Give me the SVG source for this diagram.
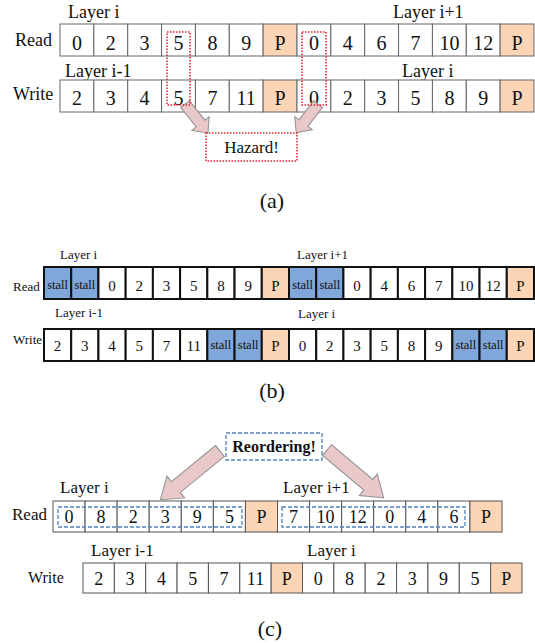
<svg xmlns="http://www.w3.org/2000/svg" width="535" height="643" viewBox="0 0 535 643">
<style>
text{font-family:"Liberation Serif","Times New Roman",serif;fill:#111}
.ca{fill:#fff;stroke:#666;stroke-width:1}
.pa{fill:#fbd5b5;stroke:#666;stroke-width:1}
.cb{fill:#fff;stroke:#111;stroke-width:2}
.pb{fill:#fbd5b5;stroke:#111;stroke-width:2}
.sb{fill:#7fa7d9;stroke:#111;stroke-width:2}
.cc{fill:#fff;stroke:#555;stroke-width:1}
.pc{fill:#fbd5b5;stroke:#555;stroke-width:1}
.da{font-size:20px;text-anchor:middle}
.db{font-size:15px;text-anchor:middle}
.st{font-size:12.5px;text-anchor:middle}
.dc{font-size:18px;text-anchor:middle}
.la{font-size:18px}
.lb{font-size:13px}
.lc{font-size:17px}
.cap{font-size:22px;text-anchor:middle}
.red{fill:none;stroke:#e8202a;stroke-width:1.5;stroke-dasharray:1.5 1.5}
.blue{fill:none;stroke:#4f81bd;stroke-width:1.3;stroke-dasharray:4 2}
.arr{fill:#e8c8c8;stroke:#8f8f8f;stroke-width:1}
</style>

<!-- (a) -->
<g id="a-labels">
<text class="la" x="68" y="18">Layer i</text>
<text class="la" x="393" y="18">Layer i+1</text>
<text class="la" x="15" y="46">Read</text>
<text class="la" x="65" y="77">Layer i-1</text>
<text class="la" x="402" y="77">Layer i</text>
<text class="la" x="13" y="100">Write</text>
</g>
<g id="a-read">
<rect class="ca" x="60" y="24" width="33.86" height="32"/><text class="da" x="76.9" y="50">0</text>
<rect class="ca" x="93.86" y="24" width="33.86" height="32"/><text class="da" x="110.8" y="50">2</text>
<rect class="ca" x="127.71" y="24" width="33.86" height="32"/><text class="da" x="144.6" y="50">3</text>
<rect class="ca" x="161.57" y="24" width="33.86" height="32"/><text class="da" x="178.5" y="50">5</text>
<rect class="ca" x="195.43" y="24" width="33.86" height="32"/><text class="da" x="212.4" y="50">8</text>
<rect class="ca" x="229.29" y="24" width="33.86" height="32"/><text class="da" x="246.2" y="50">9</text>
<rect class="pa" x="263.14" y="24" width="33.86" height="32"/><text class="da" x="280.1" y="50">P</text>
<rect class="ca" x="297" y="24" width="33.86" height="32"/><text class="da" x="313.9" y="50">0</text>
<rect class="ca" x="330.86" y="24" width="33.86" height="32"/><text class="da" x="347.8" y="50">4</text>
<rect class="ca" x="364.71" y="24" width="33.86" height="32"/><text class="da" x="381.6" y="50">6</text>
<rect class="ca" x="398.57" y="24" width="33.86" height="32"/><text class="da" x="415.5" y="50">7</text>
<rect class="ca" x="432.43" y="24" width="33.86" height="32"/><text class="da" x="449.4" y="50">10</text>
<rect class="ca" x="466.29" y="24" width="33.86" height="32"/><text class="da" x="483.2" y="50">12</text>
<rect class="pa" x="500.14" y="24" width="33.86" height="32"/><text class="da" x="517.1" y="50">P</text>
</g>
<g id="a-write">
<rect class="ca" x="60" y="80" width="33.86" height="32"/><text class="da" x="76.9" y="105">2</text>
<rect class="ca" x="93.86" y="80" width="33.86" height="32"/><text class="da" x="110.8" y="105">3</text>
<rect class="ca" x="127.71" y="80" width="33.86" height="32"/><text class="da" x="144.6" y="105">4</text>
<rect class="ca" x="161.57" y="80" width="33.86" height="32"/><text class="da" x="178.5" y="105">5</text>
<rect class="ca" x="195.43" y="80" width="33.86" height="32"/><text class="da" x="212.4" y="105">7</text>
<rect class="ca" x="229.29" y="80" width="33.86" height="32"/><text class="da" x="246.2" y="105">11</text>
<rect class="pa" x="263.14" y="80" width="33.86" height="32"/><text class="da" x="280.1" y="105">P</text>
<rect class="ca" x="297" y="80" width="33.86" height="32"/><text class="da" x="313.9" y="105">0</text>
<rect class="ca" x="330.86" y="80" width="33.86" height="32"/><text class="da" x="347.8" y="105">2</text>
<rect class="ca" x="364.71" y="80" width="33.86" height="32"/><text class="da" x="381.6" y="105">3</text>
<rect class="ca" x="398.57" y="80" width="33.86" height="32"/><text class="da" x="415.5" y="105">5</text>
<rect class="ca" x="432.43" y="80" width="33.86" height="32"/><text class="da" x="449.4" y="105">8</text>
<rect class="ca" x="466.29" y="80" width="33.86" height="32"/><text class="da" x="483.2" y="105">9</text>
<rect class="pa" x="500.14" y="80" width="33.86" height="32"/><text class="da" x="517.1" y="105">P</text>
</g>
<g id="a-connectors">
<path class="arr" transform="translate(185,104) rotate(51.6)" d="M0,-5.5 H25 V-11 L37,0 L25,11 V5.5 H0 Z"/>
<path class="arr" transform="translate(318,104) rotate(127.2)" d="M0,-5.5 H24 V-11 L36,0 L24,11 V5.5 H0 Z"/>
</g>
<g id="a-hazard-marks">
<rect class="red" x="167" y="32" width="23" height="73"/>
<rect class="red" x="302" y="32" width="24" height="73"/>
</g>
<g id="a-hazard">
<rect class="red" x="206" y="133" width="91" height="28"/>
<text x="251.5" y="153" style="font-size:17px;text-anchor:middle">Hazard!</text>
</g>
<text class="cap" x="272" y="208">(a)</text>

<!-- (b) -->
<g id="b-labels">
<text class="lb" x="60" y="259">Layer i</text>
<text class="lb" x="297" y="259">Layer i+1</text>
<text class="lb" x="13" y="291">Read</text>
<text class="lb" x="55" y="317">Layer i-1</text>
<text class="lb" x="298" y="318">Layer i</text>
<text class="lb" x="13" y="344">Write</text>
</g>
<g id="b-read">
<rect class="sb" x="44" y="267" width="27.22" height="32"/><text class="st" x="57.6" y="289">stall</text>
<rect class="sb" x="71.22" y="267" width="27.22" height="32"/><text class="st" x="84.8" y="289">stall</text>
<rect class="cb" x="98.44" y="267" width="27.22" height="32"/><text class="db" x="112.1" y="291">0</text>
<rect class="cb" x="125.67" y="267" width="27.22" height="32"/><text class="db" x="139.3" y="291">2</text>
<rect class="cb" x="152.89" y="267" width="27.22" height="32"/><text class="db" x="166.5" y="291">3</text>
<rect class="cb" x="180.11" y="267" width="27.22" height="32"/><text class="db" x="193.7" y="291">5</text>
<rect class="cb" x="207.33" y="267" width="27.22" height="32"/><text class="db" x="220.9" y="291">8</text>
<rect class="cb" x="234.56" y="267" width="27.22" height="32"/><text class="db" x="248.2" y="291">9</text>
<rect class="pb" x="261.78" y="267" width="27.22" height="32"/><text class="db" x="275.4" y="291">P</text>
<rect class="sb" x="289" y="267" width="27.22" height="32"/><text class="st" x="302.6" y="289">stall</text>
<rect class="sb" x="316.22" y="267" width="27.22" height="32"/><text class="st" x="329.8" y="289">stall</text>
<rect class="cb" x="343.44" y="267" width="27.22" height="32"/><text class="db" x="357.1" y="291">0</text>
<rect class="cb" x="370.67" y="267" width="27.22" height="32"/><text class="db" x="384.3" y="291">4</text>
<rect class="cb" x="397.89" y="267" width="27.22" height="32"/><text class="db" x="411.5" y="291">6</text>
<rect class="cb" x="425.11" y="267" width="27.22" height="32"/><text class="db" x="438.7" y="291">7</text>
<rect class="cb" x="452.33" y="267" width="27.22" height="32"/><text class="db" x="465.9" y="291">10</text>
<rect class="cb" x="479.56" y="267" width="27.22" height="32"/><text class="db" x="493.2" y="291">12</text>
<rect class="pb" x="506.78" y="267" width="27.22" height="32"/><text class="db" x="520.4" y="291">P</text>
</g>
<g id="b-write">
<rect class="cb" x="44" y="329" width="27.22" height="32"/><text class="db" x="57.6" y="351">2</text>
<rect class="cb" x="71.22" y="329" width="27.22" height="32"/><text class="db" x="84.8" y="351">3</text>
<rect class="cb" x="98.44" y="329" width="27.22" height="32"/><text class="db" x="112.1" y="351">4</text>
<rect class="cb" x="125.67" y="329" width="27.22" height="32"/><text class="db" x="139.3" y="351">5</text>
<rect class="cb" x="152.89" y="329" width="27.22" height="32"/><text class="db" x="166.5" y="351">7</text>
<rect class="cb" x="180.11" y="329" width="27.22" height="32"/><text class="db" x="193.7" y="351">11</text>
<rect class="sb" x="207.33" y="329" width="27.22" height="32"/><text class="st" x="220.9" y="349">stall</text>
<rect class="sb" x="234.56" y="329" width="27.22" height="32"/><text class="st" x="248.2" y="349">stall</text>
<rect class="pb" x="261.78" y="329" width="27.22" height="32"/><text class="db" x="275.4" y="351">P</text>
<rect class="cb" x="289" y="329" width="27.22" height="32"/><text class="db" x="302.6" y="351">0</text>
<rect class="cb" x="316.22" y="329" width="27.22" height="32"/><text class="db" x="329.8" y="351">2</text>
<rect class="cb" x="343.44" y="329" width="27.22" height="32"/><text class="db" x="357.1" y="351">3</text>
<rect class="cb" x="370.67" y="329" width="27.22" height="32"/><text class="db" x="384.3" y="351">5</text>
<rect class="cb" x="397.89" y="329" width="27.22" height="32"/><text class="db" x="411.5" y="351">8</text>
<rect class="cb" x="425.11" y="329" width="27.22" height="32"/><text class="db" x="438.7" y="351">9</text>
<rect class="sb" x="452.33" y="329" width="27.22" height="32"/><text class="st" x="465.9" y="349">stall</text>
<rect class="sb" x="479.56" y="329" width="27.22" height="32"/><text class="st" x="493.2" y="349">stall</text>
<rect class="pb" x="506.78" y="329" width="27.22" height="32"/><text class="db" x="520.4" y="351">P</text>
</g>
<text class="cap" x="272" y="398">(b)</text>

<!-- (c) -->
<g id="c-labels">
<text class="lc" x="60" y="493">Layer i</text>
<text class="lc" x="283" y="493">Layer i+1</text>
<text class="lc" x="12" y="520">Read</text>
<text class="lc" x="91" y="556">Layer i-1</text>
<text class="lc" x="307" y="556">Layer i</text>
<text x="28" y="583" style="font-size:16px">Write</text>
</g>
<g id="c-read">
<rect class="cc" x="53" y="501" width="32.07" height="31"/><text class="dc" x="69" y="523">0</text>
<rect class="cc" x="85.07" y="501" width="32.07" height="31"/><text class="dc" x="101.1" y="523">8</text>
<rect class="cc" x="117.14" y="501" width="32.07" height="31"/><text class="dc" x="133.2" y="523">2</text>
<rect class="cc" x="149.21" y="501" width="32.07" height="31"/><text class="dc" x="165.3" y="523">3</text>
<rect class="cc" x="181.29" y="501" width="32.07" height="31"/><text class="dc" x="197.3" y="523">9</text>
<rect class="cc" x="213.36" y="501" width="32.07" height="31"/><text class="dc" x="229.4" y="523">5</text>
<rect class="pc" x="245.43" y="501" width="32.07" height="31"/><text class="dc" x="261.5" y="523">P</text>
<rect class="cc" x="277.5" y="501" width="32.07" height="31"/><text class="dc" x="293.5" y="523">7</text>
<rect class="cc" x="309.57" y="501" width="32.07" height="31"/><text class="dc" x="325.6" y="523">10</text>
<rect class="cc" x="341.64" y="501" width="32.07" height="31"/><text class="dc" x="357.7" y="523">12</text>
<rect class="cc" x="373.71" y="501" width="32.07" height="31"/><text class="dc" x="389.8" y="523">0</text>
<rect class="cc" x="405.79" y="501" width="32.07" height="31"/><text class="dc" x="421.8" y="523">4</text>
<rect class="cc" x="437.86" y="501" width="32.07" height="31"/><text class="dc" x="453.9" y="523">6</text>
<rect class="pc" x="469.93" y="501" width="32.07" height="31"/><text class="dc" x="486" y="523">P</text>
<rect class="blue" x="58" y="507" width="184" height="20"/>
<rect class="blue" x="282" y="507" width="183" height="20"/>
</g>
<g id="c-write">
<rect class="cc" x="83" y="563" width="31.36" height="30"/><text class="dc" x="98.7" y="585">2</text>
<rect class="cc" x="114.36" y="563" width="31.36" height="30"/><text class="dc" x="130" y="585">3</text>
<rect class="cc" x="145.71" y="563" width="31.36" height="30"/><text class="dc" x="161.4" y="585">4</text>
<rect class="cc" x="177.07" y="563" width="31.36" height="30"/><text class="dc" x="192.8" y="585">5</text>
<rect class="cc" x="208.43" y="563" width="31.36" height="30"/><text class="dc" x="224.1" y="585">7</text>
<rect class="cc" x="239.79" y="563" width="31.36" height="30"/><text class="dc" x="255.5" y="585">11</text>
<rect class="pc" x="271.14" y="563" width="31.36" height="30"/><text class="dc" x="286.8" y="585">P</text>
<rect class="cc" x="302.5" y="563" width="31.36" height="30"/><text class="dc" x="318.2" y="585">0</text>
<rect class="cc" x="333.86" y="563" width="31.36" height="30"/><text class="dc" x="349.5" y="585">8</text>
<rect class="cc" x="365.21" y="563" width="31.36" height="30"/><text class="dc" x="380.9" y="585">2</text>
<rect class="cc" x="396.57" y="563" width="31.36" height="30"/><text class="dc" x="412.3" y="585">3</text>
<rect class="cc" x="427.93" y="563" width="31.36" height="30"/><text class="dc" x="443.6" y="585">9</text>
<rect class="cc" x="459.29" y="563" width="31.36" height="30"/><text class="dc" x="475" y="585">5</text>
<rect class="pc" x="490.64" y="563" width="31.36" height="30"/><text class="dc" x="506.3" y="585">P</text>
</g>
<g id="c-connectors">
<path class="arr" transform="translate(220,451) rotate(140.8)" d="M0,-7 H57 V-14 L77,0 L57,14 V7 H0 Z"/>
<path class="arr" transform="translate(327,450) rotate(40.1)" d="M0,-7 H54 V-14 L74,0 L54,14 V7 H0 Z"/>
</g>
<g id="c-reordering">
<rect class="blue" x="226" y="433" width="96" height="27"/>
<text x="274" y="452" style="font-size:16px;font-weight:bold;text-anchor:middle">Reordering!</text>
</g>
<text class="cap" x="270" y="636">(c)</text>
</svg>
